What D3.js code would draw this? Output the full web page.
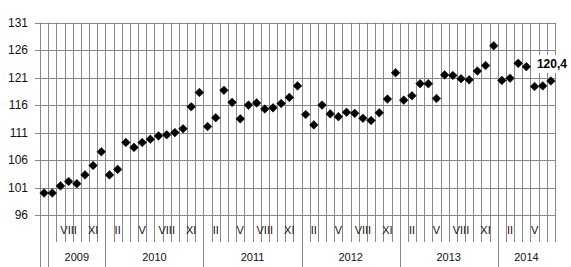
<!DOCTYPE html>
<html>
<head>
<meta charset="utf-8">
<script src="https://cdn.jsdelivr.net/npm/d3@7"></script>
<style>
  body { margin: 0; background: #fff; }
  svg { display: block; font-family: "Liberation Sans", Arial, sans-serif; }
</style>
</head>
<body>
<svg></svg>
<script>
// year groups (first column is the base month, no year label)
var years = ["", "2009", "2010", "2011", "2012", "2013", "2014"];
var yearMonths = [1, 7, 12, 12, 12, 12, 7];
var roman = ["I", "II", "III", "IV", "V", "VI", "VII", "VIII", "IX", "X", "XI", "XII"];
var shownMonths = ["II", "V", "VIII", "XI"];

var values = [
  100.0,
  100.0, 101.3, 102.1, 101.7, 103.3, 105.0, 107.5,
  103.3, 104.3, 109.2, 108.3, 109.2, 109.8, 110.4, 110.6, 111.0, 111.7, 115.7, 118.3,
  112.1, 113.7, 118.7, 116.5, 113.5, 116.0, 116.4, 115.3, 115.5, 116.3, 117.4, 119.5,
  114.3, 112.4, 116.0, 114.4, 113.9, 114.7, 114.5, 113.6, 113.2, 114.6, 117.1, 121.9,
  116.9, 117.7, 119.9, 119.9, 117.2, 121.5, 121.4, 120.8, 120.6, 122.2, 123.2, 126.8,
  120.5, 120.9, 123.6, 123.0, 119.4, 119.5, 120.4
];
var yTicks = [96, 101, 106, 111, 116, 121, 126, 131];
var lastLabel = "120,4";

// month name for each column
var months = [""];
for (var m = 5; m < 12; m++) months.push(roman[m]);
for (var k = 0; k < 4; k++) roman.forEach(function(r) { months.push(r); });
for (var m2 = 0; m2 < 7; m2++) months.push(roman[m2]);

var svgWidth = 571, svgHeight = 267;
var plotLeft = 40, plotRight = 555, plotTop = 22.7, plotBottom = 215;
var monthRowBottom = 242;

var svg = d3.select("svg")
  .attr("width", svgWidth)
  .attr("height", svgHeight);

var xScale = d3.scaleBand()
  .domain(d3.range(values.length))
  .range([plotLeft, plotRight]);

var yScale = d3.scaleLinear()
  .domain([96, 131])
  .range([plotBottom, plotTop]);

var grid = "#888";

// horizontal gridlines with little ticks on the left
svg.selectAll(".hgrid")
  .data(yTicks)
  .enter()
  .append("line")
  .attr("x1", plotLeft - 5)
  .attr("x2", plotRight)
  .attr("y1", function(d) { return Math.round(yScale(d)) + 0.5; })
  .attr("y2", function(d) { return Math.round(yScale(d)) + 0.5; })
  .attr("stroke", grid)
  .attr("stroke-width", 1);

svg.selectAll(".ylab")
  .data(yTicks)
  .enter()
  .append("text")
  .attr("x", 28)
  .attr("y", function(d) { return yScale(d) + 4; })
  .attr("text-anchor", "end")
  .attr("font-size", 12)
  .attr("fill", "#111")
  .text(function(d) { return d; });

// vertical gridlines: each column boundary, through the month row
var edges = d3.range(values.length + 1).map(function(i) {
  return i < values.length ? xScale(i) : xScale(values.length - 1) + xScale.bandwidth();
});
svg.selectAll(".vgrid")
  .data(edges)
  .enter()
  .append("line")
  .attr("x1", function(d) { return Math.round(d) + 0.5; })
  .attr("x2", function(d) { return Math.round(d) + 0.5; })
  .attr("y1", plotTop)
  .attr("y2", monthRowBottom)
  .attr("stroke", grid)
  .attr("stroke-width", 1);

// year separators in the bottom row
var starts = [];
var acc = 0;
yearMonths.forEach(function(n) { starts.push(acc); acc += n; });
svg.selectAll(".ysep")
  .data(starts)
  .enter()
  .append("line")
  .attr("x1", function(d) { return Math.round(xScale(d)) + 0.5; })
  .attr("x2", function(d) { return Math.round(xScale(d)) + 0.5; })
  .attr("y1", monthRowBottom)
  .attr("y2", svgHeight)
  .attr("stroke", grid)
  .attr("stroke-width", 1);

svg.selectAll(".yearlab")
  .data(years)
  .enter()
  .append("text")
  .attr("x", function(d, i) {
    return xScale(starts[i]) + yearMonths[i] * xScale.bandwidth() / 2;
  })
  .attr("y", 261)
  .attr("text-anchor", "middle")
  .attr("font-size", 11)
  .attr("fill", "#111")
  .text(function(d) { return d; });

svg.selectAll(".monthlab")
  .data(months)
  .enter()
  .append("text")
  .attr("x", function(d, i) { return xScale(i) + xScale.bandwidth() / 2; })
  .attr("y", 234)
  .attr("text-anchor", "middle")
  .attr("font-size", 11)
  .attr("fill", "#111")
  .text(function(d) { return shownMonths.indexOf(d) >= 0 ? d : ""; });

// markers
svg.selectAll(".pt")
  .data(values)
  .enter()
  .append("path")
  .attr("d", "M0,-4.3L4.3,0L0,4.3L-4.3,0Z")
  .attr("transform", function(d, i) {
    return "translate(" + (xScale(i) + xScale.bandwidth() / 2) + "," + yScale(d) + ")";
  })
  .attr("fill", "#000")
  .attr("stroke", "#000")
  .attr("stroke-width", 0.6);

// label for the last value
var li = values.length - 1;
var lx = xScale(li) + xScale.bandwidth() / 2 - 14;
var ly = yScale(values[li]) - 13;
svg.append("rect")
  .attr("x", lx - 3)
  .attr("y", ly - 13)
  .attr("width", 36)
  .attr("height", 18)
  .attr("fill", "#fff");
svg.append("text")
  .attr("x", lx)
  .attr("y", ly)
  .attr("font-size", 12)
  .attr("font-weight", "bold")
  .attr("fill", "#000")
  .text(lastLabel);
</script>
</body>
</html>
